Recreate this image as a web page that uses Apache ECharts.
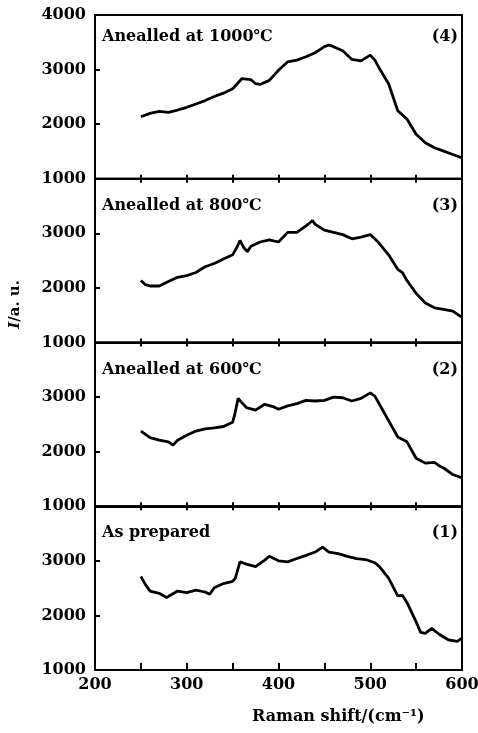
<!DOCTYPE html>
<html><head><meta charset="utf-8">
<script src="https://cdn.jsdelivr.net/npm/echarts@6/dist/echarts.min.js"></script>
<style>html,body{margin:0;padding:0;background:#fff}#c{width:478px;height:733px}</style>
</head><body><div id="c"></div>
<script>
// Raman shift (cm^-1) and intensity (a.u.) for each sample
const x1 = [250,255,260,270,278,290,300,310,320,325,330,340,350,353,358,365,375,385,390,400,410,420,430,440,448,455,465,475,485,495,505,510,520,530,535,540,550,555,560,567,575,585,595,600];
const asPrepared = [2714,2565,2446,2405,2327,2446,2417,2464,2429,2387,2506,2583,2625,2685,2982,2940,2893,3012,3083,3000,2982,3042,3101,3161,3250,3161,3131,3083,3042,3024,2964,2893,2685,2357,2369,2238,1881,1690,1673,1762,1655,1554,1524,1583];
const x2 = [250,260,270,280,285,290,300,310,320,330,340,350,352,356,360,365,375,385,395,400,410,420,430,440,450,460,470,480,490,500,505,510,520,530,540,550,560,570,575,580,590,600];
const a600 = [2377,2257,2210,2180,2120,2210,2299,2377,2419,2437,2461,2539,2659,2976,2898,2808,2760,2868,2820,2778,2838,2880,2940,2928,2940,3000,2988,2928,2976,3078,3018,2868,2569,2269,2180,1880,1790,1802,1743,1701,1581,1521];
const x3 = [250,255,260,270,280,290,300,310,320,330,340,350,355,358,362,366,370,380,390,400,410,420,430,437,440,450,460,470,480,490,500,505,510,520,530,535,540,550,560,570,580,590,600];
const a800 = [2135,2059,2035,2035,2118,2194,2224,2282,2388,2447,2529,2606,2753,2870,2741,2665,2765,2841,2882,2841,3018,3018,3135,3235,3165,3059,3018,2976,2900,2929,2976,2900,2812,2606,2341,2282,2135,1900,1724,1635,1606,1576,1459];
const x4 = [250,260,270,280,290,300,310,320,330,340,350,355,360,370,375,380,390,395,400,410,420,430,440,450,455,460,470,480,490,500,505,510,520,530,540,550,560,570,580,590,600];
const a1000 = [2136,2198,2235,2216,2259,2309,2370,2432,2506,2568,2648,2741,2833,2815,2741,2728,2802,2895,2988,3142,3173,3235,3309,3420,3451,3420,3346,3185,3160,3265,3173,3019,2741,2247,2093,1815,1660,1568,1506,1444,1383];
const panelLabels = ['Anealled at 1000℃','Anealled at 800℃','Anealled at 600℃','As prepared'];
const panelNums = ['(4)','(3)','(2)','(1)'];
const xTicks = [200,300,400,500,600];
const yTicks = [1000,2000,3000,4000];

const panels = [[x4,a1000],[x3,a800],[x2,a600],[x1,asPrepared]];
const FONT = 'DejaVu Serif';
const tops = [15, 178.75, 342.5, 506.25];
const H = 163.75;
const grids = [], xAxes = [], yAxes = [], series = [], graphics = [];
panels.forEach((p, i) => {
  grids.push({left: 95, right: 16, top: tops[i], height: H, show: true, borderColor: '#000', borderWidth: 2,
    backgroundColor: 'transparent', containLabel: false, outerBoundsMode: 'none'});
  const last = i === panels.length - 1;
  xAxes.push({type: 'value', gridIndex: i, position: 'bottom', min: 200, max: 600, interval: 50,
    axisLine: {show: true, lineStyle: {color: '#000', width: 2}},
    axisTick: {show: true, inside: true, length: last ? 7 : 4, lineStyle: {color: '#000', width: 2}},
    splitLine: {show: false},
    axisLabel: {show: last, color: '#000', fontFamily: FONT, fontWeight: 'bold', fontSize: 16, margin: 7,
      formatter: v => xTicks.includes(v) ? String(v) : ''}});
  xAxes.push({type: 'value', gridIndex: i, position: 'top', min: 200, max: 600, interval: 50,
    axisLine: {show: true, lineStyle: {color: '#000', width: 2}},
    axisTick: {show: i > 0, inside: true, length: 4, lineStyle: {color: '#000', width: 2}},
    splitLine: {show: false}, axisLabel: {show: false}});
  yAxes.push({type: 'value', gridIndex: i, min: 1000, max: 4000, interval: 1000,
    axisLine: {show: true, lineStyle: {color: '#000', width: 2}},
    axisTick: {show: true, inside: true, length: 5, lineStyle: {color: '#000', width: 2}},
    splitLine: {show: false},
    axisLabel: {color: '#000', fontFamily: FONT, fontWeight: 'bold', fontSize: 16, margin: 9,
      formatter: v => (v === 4000 && i > 0) ? '' : (yTicks.includes(v) ? String(v) : '')}});
  series.push({type: 'line', xAxisIndex: 2 * i, yAxisIndex: i, data: p[0].map((x, k) => [x, p[1][k]]),
    showSymbol: false, symbol: 'none', lineStyle: {color: '#000', width: 2.8}, z: 5});
  graphics.push({type: 'text', left: 102, top: tops[i] + (i === 0 ? 14 : 19),
    style: {text: panelLabels[i], fill: '#000', font: 'bold 16px "' + FONT + '"'}});
  graphics.push({type: 'text', right: 20, top: tops[i] + (i === 0 ? 14 : 19),
    style: {text: panelNums[i], fill: '#000', font: 'bold 16px "' + FONT + '"'}});
});
graphics.push({type: 'text', left: 252, top: 709, style: {text: 'Raman shift/(cm⁻¹)', fill: '#000', font: 'bold 16px "' + FONT + '"', align: 'center'}});
graphics.push({type: 'text', left: 8, top: 280, rotation: Math.PI / 2,
  style: {text: '{i|I}/a. u.', fill: '#000', font: 'bold 15px "' + FONT + '"',
    rich: {i: {fontStyle: 'italic', fontWeight: 'bold', fontSize: 15, fontFamily: FONT}}}});

const chart = echarts.init(document.getElementById('c'), null, {renderer: 'canvas'});
chart.setOption({animation: false, backgroundColor: '#fff', grid: grids, xAxis: xAxes, yAxis: yAxes, series: series, graphic: graphics});
</script></body></html>
